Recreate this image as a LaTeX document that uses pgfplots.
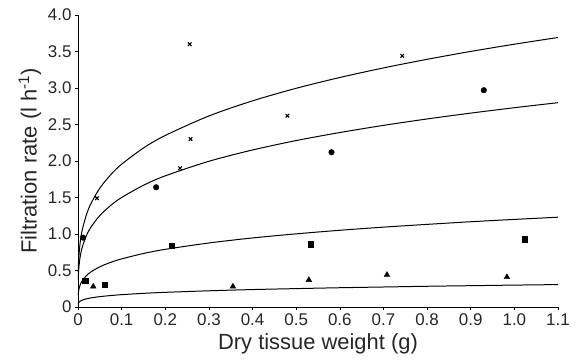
\documentclass[border=0pt]{standalone}
\usepackage{pgfplots}
\pgfplotsset{compat=1.18}
\usepackage{fontspec}
\setmainfont{Liberation Sans}
\begin{document}
\begin{tikzpicture}
\begin{axis}[
  at={(0,0)}, anchor=south west,
  scale only axis, width=480bp, height=292bp,
  xmin=0, xmax=1.1, ymin=0, ymax=4.0,
  axis lines*=left,
  axis line style={line width=0.8pt},
  tick style={black, line width=0.6pt},
  tick align=outside, major tick length=3bp,
  xtick={0,0.1,0.2,0.3,0.4,0.5,0.6,0.7,0.8,0.9,1.0,1.1},
  xticklabels={0,0.1,0.2,0.3,0.4,0.5,0.6,0.7,0.8,0.9,1.0,1.1},
  ytick={0,0.5,1,1.5,2,2.5,3,3.5,4},
  yticklabels={0,0.5,1.0,1.5,2.0,2.5,3.0,3.5,4.0},
  tick label style={font=\fontsize{17}{19}\selectfont, text=black!85},
  label style={font=\fontsize{22}{25}\selectfont, text=black!85},
  xlabel={Dry tissue weight (g)},
  ylabel={Filtration rate (l h\textsuperscript{-1})},
  xlabel style={yshift=-1bp},
  ylabel style={yshift=0bp},
  clip=false,
]
% fitted curves
\addplot[black, line width=1pt, smooth] coordinates {
(0.0005,0.480)(0.001,0.577)(0.002,0.693)(0.005,0.884)(0.01,1.062)(0.02,1.277)(0.03,1.421)(0.05,1.628)(0.075,1.812)(0.1,1.956)(0.15,2.178)(0.2,2.350)(0.3,2.617)(0.4,2.824)(0.5,2.996)(0.6,3.144)(0.7,3.275)(0.8,3.393)(0.9,3.501)(1.0,3.600)(1.1,3.692)};
\addplot[black, line width=1pt, smooth] coordinates {
(0.0005,0.378)(0.001,0.453)(0.002,0.542)(0.005,0.689)(0.01,0.825)(0.02,0.987)(0.03,1.097)(0.05,1.253)(0.075,1.392)(0.1,1.500)(0.15,1.667)(0.2,1.797)(0.3,1.996)(0.4,2.151)(0.5,2.280)(0.6,2.390)(0.7,2.488)(0.8,2.576)(0.9,2.656)(1.0,2.730)(1.1,2.799)};
\addplot[black, line width=1pt, smooth] coordinates {
(0.0005,0.166)(0.001,0.199)(0.002,0.238)(0.005,0.303)(0.01,0.362)(0.02,0.434)(0.03,0.482)(0.05,0.551)(0.075,0.612)(0.1,0.659)(0.15,0.733)(0.2,0.790)(0.3,0.877)(0.4,0.946)(0.5,1.002)(0.6,1.051)(0.7,1.094)(0.8,1.132)(0.9,1.168)(1.0,1.200)(1.1,1.230)};
\addplot[black, line width=1pt, smooth] coordinates {
(0.0005,0.045)(0.001,0.053)(0.002,0.063)(0.005,0.080)(0.01,0.095)(0.02,0.113)(0.03,0.125)(0.05,0.142)(0.075,0.157)(0.1,0.169)(0.15,0.187)(0.2,0.201)(0.3,0.222)(0.4,0.239)(0.5,0.252)(0.6,0.264)(0.7,0.274)(0.8,0.284)(0.9,0.292)(1.0,0.300)(1.1,0.307)};
% data points
\addplot[only marks, mark=x, mark size=2.5bp, mark options={line width=1.1pt, black}] coordinates {
(0.0435,1.49)(0.234,1.90)(0.256,3.60)(0.258,2.30)(0.480,2.62)(0.743,3.44)};
\addplot[only marks, mark=*, mark size=2.8bp, black] coordinates {
(0.0115,0.95)(0.179,1.64)(0.581,2.12)(0.930,2.97)};
\addplot[only marks, mark=square*, mark size=2.6bp, black] coordinates {
(0.0167,0.36)(0.061,0.31)(0.215,0.84)(0.533,0.86)(1.023,0.93)};
\addplot[only marks, mark=triangle*, mark size=3.3bp, black] coordinates {
(0.035,0.28)(0.355,0.28)(0.529,0.37)(0.708,0.44)(0.983,0.41)};
\end{axis}
\pgfresetboundingbox
\path[use as bounding box] (-78bp,-55bp) rectangle (503bp,307bp);
\end{tikzpicture}
\end{document}
